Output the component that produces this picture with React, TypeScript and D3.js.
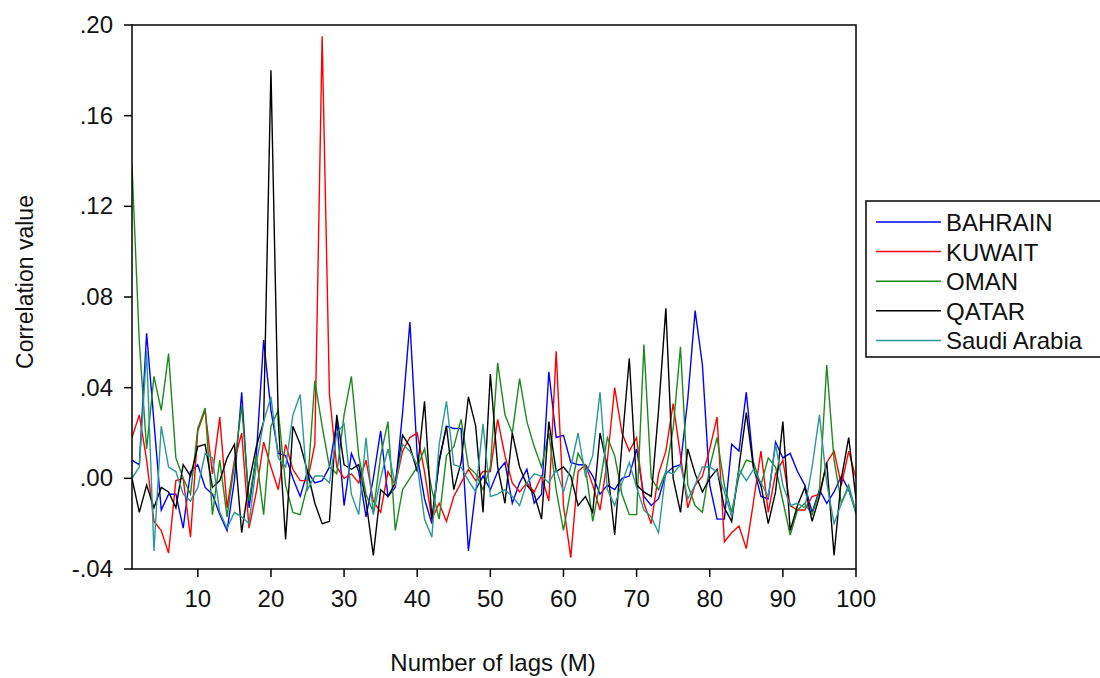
import React from "react";
import * as d3 from "d3";

const lags: number[] = d3.range(1, 101);

const bahrain: number[] = [
  0.8, 0.6, 6.4, 2.5, -1.4, -0.7, -0.7, -2.2, 0.3, 0.6,
  -0.4, -0.7, -1.6, -2.3, -0.1, 3.8, -1.3, 1.0, 6.1, 3.0,
  1.1, 1.0, 0.0, -0.8, 0.3, -0.2, -0.1, 0.5, 2.5, -1.2,
  1.1, 0.3, -1.7, 0.0, 2.1, -0.8, -0.4, 2.9, 6.9, 1.0,
  -0.9, -2.0, 0.7, 2.3, 2.2, 2.2, -3.2, -0.5, 0.1, -0.5,
  0.3, 0.7, -1.1, -0.2, 0.4, -1.1, -0.7, 4.7, 1.8, 1.9,
  0.7, 0.6, 0.6, 0.1, -0.7, -0.3, -0.5, 0.0, 0.1, 1.3,
  -0.8, -1.2, -0.9, 0.2, 0.5, 0.6, 3.5, 7.4, 5.0, -0.3,
  -1.8, -1.8, 1.5, 1.2, 3.8, 0.5, -0.8, -0.9, 1.6, 0.9,
  1.1, 0.3, -0.3, -1.5, -0.5, -1.1, -0.6, 0.1, -0.5, -1.5,
];

const kuwait: number[] = [
  1.8, 2.8, 0.8, -1.9, -2.3, -3.3, -0.1, 0.0, -2.6, 2.1,
  3.0, 0.2, 2.7, -1.3, 0.8, 2.0, -2.2, -0.6, 1.6, 0.5,
  -0.5, 1.5, 0.4, -0.1, -0.1, 1.5, 19.5, 3.7, 0.5, 0.0,
  0.2, -0.2, 0.8, -1.0, -1.5, 0.3, -0.3, 1.2, 1.8, 2.0,
  0.3, -1.8, -1.1, -1.9, -0.8, -0.2, 0.4, -0.1, 0.3, 0.3,
  2.6, 1.0, -0.2, -0.6, -0.2, -0.6, 0.1, -1.0, 5.6, -1.2,
  -3.5, 0.3, 0.6, -0.3, -1.4, 0.8, 4.0, 2.0, 1.2, 1.8,
  -1.1, -2.0, 0.2, 1.2, 3.3, 1.0, -1.3, -0.3, 0.1, 1.3,
  2.7, -2.8, -2.4, -2.1, -3.1, -1.0, 1.2, -1.5, 0.2, 0.8,
  -1.2, -1.4, -1.4, -0.8, -0.7, 0.7, 1.2, -0.3, 1.2, 0.0,
];

const oman: number[] = [
  13.8, 6.0, 1.3, 4.5, 3.0, 5.5, 0.9, 0.0, -0.7, 2.2,
  3.1, -1.6, 0.8, -1.7, 0.6, 3.2, -1.0, 1.0, -1.6, 2.3,
  3.0, -0.3, -1.5, -1.6, -0.3, 4.3, 2.3, 0.5, 0.2, 2.8,
  4.5, 1.0, -0.7, -1.5, 1.0, 2.5, -2.3, -0.5, 0.0, 0.5,
  1.3, -0.5, -1.8, 1.0, 1.4, 2.6, 0.5, 0.2, -0.5, 0.5,
  5.1, 2.8, 2.0, 4.4, 2.5, 1.4, 0.5, 2.0, -0.5, -2.3,
  -0.5, 1.1, 0.5, -1.9, -0.2, 1.8, 1.0, -0.7, -1.6, -1.6,
  5.9, 0.0, -0.5, 0.3, 2.2, 5.8, -0.3, -1.2, -1.5, 0.5,
  1.8, -0.3, -1.5, 0.1, 0.8, 0.7, -0.3, 0.9, 0.5, -1.0,
  -2.5, -1.4, -1.1, -1.6, -0.6, 5.0, 0.8, -1.1, -0.3, -1.5,
];

const qatar: number[] = [
  0.0, -1.5, -0.3, -1.3, -0.4, -0.6, -1.3, 0.6, 0.1, 1.4,
  1.5, -0.4, -0.1, 0.9, 1.5, -2.4, -0.2, 1.4, 2.5, 18.0,
  2.5, -2.7, 2.3, 1.5, 0.3, -1.1, -2.0, -1.9, 2.8, 0.6,
  0.4, 0.6, -1.0, -3.4, -0.5, -0.8, -0.2, 1.9, 1.4, 0.3,
  3.4, -1.8, 0.8, 2.3, -0.5, 0.7, 3.6, 2.3, -1.5, 4.6,
  0.5, -1.1, 2.0, 0.5, -0.3, -0.7, -1.8, 2.5, 0.3, 0.5,
  0.1, -1.2, -0.8, -1.5, 2.0, 0.5, -2.5, 1.5, 5.3, -0.3,
  -0.6, -0.8, 3.0, 7.5, 0.0, -1.5, 1.3, 0.2, -0.6, 0.0,
  0.4, -1.3, -1.9, 0.5, 2.9, 0.4, -0.3, -2.0, -0.6, 2.5,
  -2.3, -1.2, -0.4, -1.9, -0.8, 0.7, -3.4, 0.0, 1.8, -0.9,
];

const saudi: number[] = [
  0.0, 0.5, 5.6, -3.2, 2.3, 0.5, 0.3, -0.7, -1.0, -0.4,
  1.1, 0.9, -1.5, -2.2, -1.5, -1.7, -2.0, 0.6, 2.5, 3.6,
  0.9, 0.5, 2.8, 3.7, -0.5, 0.1, 0.1, -0.2, 2.0, 2.4,
  -0.7, -1.6, 1.8, -1.6, 0.0, 1.3, -0.3, 1.5, 1.2, 0.6,
  -1.8, -2.6, 1.5, 3.4, 0.6, 0.5, -0.1, -0.6, 2.4, -0.8,
  -0.7, -0.5, -0.8, -1.2, -0.2, 0.2, 0.1, -0.2, 0.4, -0.6,
  0.5, 2.0, 0.1, 1.0, 3.8, -0.5, -1.2, -0.2, 0.7, -0.4,
  -1.4, -1.7, -2.4, 0.3, 0.2, 0.6, -0.9, -0.3, 0.5, 0.5,
  0.3, -0.6, -1.7, 0.4, -0.1, 0.4, -0.2, -0.8, 1.5, -0.3,
  -1.2, -1.1, -1.3, 0.5, 2.8, -0.2, -2.0, -1.1, -0.4, -1.6,
];

const seriesNames: string[] = ["BAHRAIN", "KUWAIT", "OMAN", "QATAR", "Saudi Arabia"];
const seriesValues: number[][] = [bahrain, kuwait, oman, qatar, saudi];
const seriesColors: string[] = ["#0000ff", "#ff0000", "#1b8a1b", "#000000", "#2b9898"];

const xTicks: number[] = [10, 20, 30, 40, 50, 60, 70, 80, 90, 100];
const yTicks: number[] = [-0.04, 0.0, 0.04, 0.08, 0.12, 0.16, 0.2];

const W = 1100;
const H = 678;
const left = 132;
const right = 856;
const top = 25;
const bottom = 569;
const FONT = "'Liberation Sans', Arial, sans-serif";

function fmtY(v: number): string {
  const a = Math.abs(v).toFixed(2).replace(/^0/, "");
  return (v < -1e-9 ? "-" : "") + a;
}

export default function App() {
  const x = d3.scaleLinear().domain([1, 100]).range([left, right]);
  const y = d3.scaleLinear().domain([-0.04, 0.2]).range([bottom, top]);
  const line = d3
    .line<number>()
    .x((_, i) => x(lags[i]))
    .y((d) => y(d / 100));

  const legendX = 866;
  const legendY = 201;
  const rowH = 29.6;

  return (
    <svg
      width={W}
      height={H}
      style={{ position: "absolute", left: 0, top: 0, background: "#fff" }}
      fontFamily={FONT}
    >
      <rect x={0} y={0} width={W} height={H} fill="#fff" />
      <defs>
        <clipPath id="plotclip">
          <rect x={left} y={top} width={right - left} height={bottom - top} />
        </clipPath>
      </defs>
      <g clipPath="url(#plotclip)">
        {seriesValues.map((vals, i) => (
          <path
            key={seriesNames[i]}
            d={line(vals) || ""}
            fill="none"
            stroke={seriesColors[i]}
            strokeWidth={1.4}
            strokeLinejoin="miter"
          />
        ))}
      </g>
      <rect
        x={left}
        y={top}
        width={right - left}
        height={bottom - top}
        fill="none"
        stroke="#000"
        strokeWidth={1.5}
      />
      {xTicks.map((t) => (
        <g key={"x" + t}>
          <line x1={x(t)} x2={x(t)} y1={bottom} y2={bottom + 8} stroke="#000" strokeWidth={1.5} />
          <text x={x(t)} y={607} textAnchor="middle" fontSize={24} fill="#111">
            {t}
          </text>
        </g>
      ))}
      {yTicks.map((t) => (
        <g key={"y" + t}>
          <line x1={left - 8} x2={left} y1={y(t)} y2={y(t)} stroke="#000" strokeWidth={1.5} />
          <text x={113} y={y(t) + 8} textAnchor="end" fontSize={24} fill="#111">
            {fmtY(t)}
          </text>
        </g>
      ))}
      <text x={493} y={671} textAnchor="middle" fontSize={24} fill="#111">
        Number of lags (M)
      </text>
      <text
        transform={`translate(33,282) rotate(-90)`}
        textAnchor="middle"
        fontSize={23}
        fill="#111"
      >
        Correlation value
      </text>
      <rect
        x={legendX}
        y={legendY}
        width={260}
        height={156}
        fill="#fff"
        stroke="#000"
        strokeWidth={1.5}
      />
      {seriesNames.map((n, i) => {
        const ly = legendY + 21 + i * rowH;
        return (
          <g key={"lg" + n}>
            <line x1={876} x2={941} y1={ly} y2={ly} stroke={seriesColors[i]} strokeWidth={1.5} />
            <text x={946} y={ly + 9} fontSize={24} fill="#111">
              {n}
            </text>
          </g>
        );
      })}
    </svg>
  );
}
